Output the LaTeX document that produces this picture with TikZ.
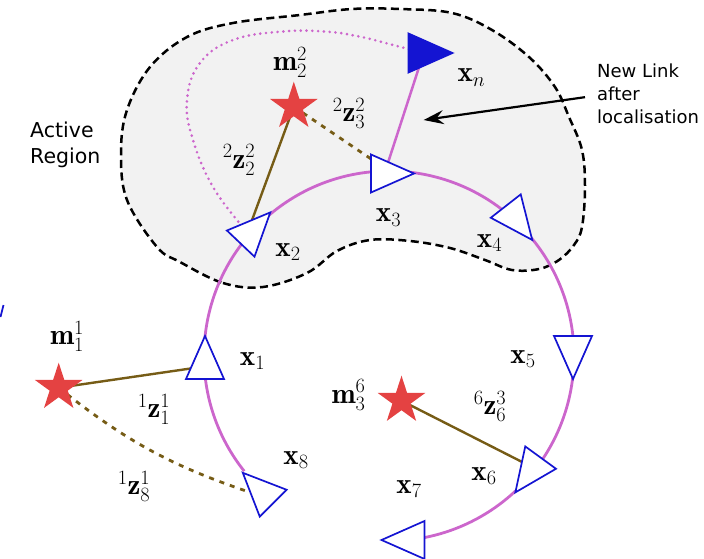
\documentclass[tikz,border=0pt]{standalone}
\usepackage{fix-cm}
\usepackage{fontspec}
\newfontfamily\dejavu{DejaVu Sans}
\usetikzlibrary{arrows.meta}
\definecolor{loopc}{RGB}{204,102,204}
\definecolor{robotc}{RGB}{20,20,210}
\definecolor{obsc}{RGB}{118,92,22}
\definecolor{starc}{RGB}{228,66,66}
\definecolor{regionfill}{RGB}{242,242,242}
\begin{document}
\begin{tikzpicture}[x=1pt,y=1pt,
  region/.style={draw=black, fill=regionfill, line width=2.5pt, dash pattern=on 8pt off 4.5pt},
  loopline/.style={draw=loopc, line width=2.8pt},
  linkline/.style={draw=loopc, line width=2.5pt},
  linkdot/.style={draw=loopc, line width=2.9pt, line cap=round, dash pattern=on 0pt off 5.8pt},
  obsline/.style={draw=obsc, line width=2.4pt},
  obsdash/.style={draw=obsc, line width=2.8pt, dash pattern=on 5pt off 6pt},
  robotline/.style={draw=robotc, line width=1.7pt, fill=white},
  robot/.pic={\path[robotline] (21.5,0) -- (-21.5,19) -- (-21.5,-19) -- cycle;},
  robotfilled/.pic={\path[draw=robotc, fill=robotc, line width=1.7pt] (22,0) -- (-22,19.5) -- (-22,-19.5) -- cycle;},
  landmark/.pic={\fill[starc] (90:25) -- (126:9.55) -- (162:25) -- (198:9.55) -- (234:25) -- (270:9.55) -- (306:25) -- (342:9.55) -- (18:25) -- (54:9.55) -- cycle;},
  lab/.style={inner sep=0pt, font=\fontsize{29}{31}\selectfont},
  note/.style={inner sep=0pt, align=left, anchor=north west}
]
\useasboundingbox (0,0) rectangle (704,558);

% active region
\path[region] plot[smooth cycle, tension=0.6] coordinates {
  (180,296) (223,275) (263,271) (307,285) (337,307) (370,318) (410,317)
  (450,310) (485,298) (512,288) (539,289) (559,298) (574,313) (582,331)
  (585,371) (582,408) (569,441) (555,471) (529,501) (492,528) (452,545)
  (400,549) (352,549) (300,543) (233,535) (187,521) (150,491) (127,448)
  (121,405) (127,358) (157,311)};

% named positions
\coordinate (C) at (389,202);
\coordinate (x1) at (205,200.5);
\coordinate (x2) at (255.5,330);
\coordinate (x3) at (392.5,384.5);
\coordinate (x4) at (519,335);
\coordinate (x5) at (573,200.5);
\coordinate (x6) at (528,83);
\coordinate (x7) at (403,18);
\coordinate (x8) at (258,70);
\coordinate (xn) at (430.5,505);
\coordinate (m1) at (58.7,170.3);
\coordinate (m2) at (293.8,451.3);
\coordinate (m3) at (401.5,157.3);
\coordinate (x1a) at (205,191.6);
\coordinate (x8a) at (255,64);
\coordinate (x2a) at (248,327);
\coordinate (x2b) at (242,332);
\coordinate (x3a) at (380,393);
\coordinate (x3b) at (384,383);
\coordinate (xna) at (423,503);
\coordinate (xnb) at (412,508);
\coordinate (x6a) at (530,92);

% trajectory loop
\draw[loopline] (C) ++(218.5:185) arc[start angle=218.5, end angle=-79, radius=185];

% new link
\draw[linkline] (x3b) -- (xna);
\draw[linkdot] plot[smooth, tension=0.7] coordinates {(x2b) (213,371) (193,418) (187,458) (200,495) (233,518) (283,526.5) (326.7,526.3) (360,521.3) (393,513) (xnb)};

% observations
\draw[obsline] (m1) -- (x1a);
\draw[obsdash] (m1) to[bend right=10] (x8a);
\draw[obsline] (m2) -- (x2a);
\draw[obsdash] (m2) -- (x3a);
\draw[obsline] (m3) -- (x6a);

% robot poses
\pic[rotate=90] at (x1) {robot};
\pic[rotate=46.5] at (x2) {robot};
\pic at (x3) {robot};
\pic[rotate=-52] at (x4) {robot};
\pic[rotate=-90] at (x5) {robot};
\pic[rotate=234] at (x6) {robot};
\pic[rotate=180] at (x7) {robot};
\pic[rotate=135] at (x8) {robot};
\pic at (xn) {robotfilled};
\draw[draw=robotc, line width=1.7pt] (3.5,253) -- (0.5,241);

% landmarks
\pic at (m1) {landmark};
\pic at (m2) {landmark};
\pic at (m3) {landmark};

% labels
\node[lab] (lm2) at (290,495.5) {$\mathbf{m}_2^2$};
\node[lab] (lz22) at (239,398) {${}^2\mathbf{z}_2^2$};
\node[lab] (lz23) at (349,444.5) {${}^2\mathbf{z}_3^2$};
\node[lab] (lxn) at (471.5,480.5) {$\mathbf{x}_n$};
\node[lab] (lx3) at (388.5,340.5) {$\mathbf{x}_3$};
\node[lab] (lx2) at (288,306) {$\mathbf{x}_2$};
\node[lab] (lx4) at (489.5,315) {$\mathbf{x}_4$};
\node[lab] (lx1) at (252.5,197) {$\mathbf{x}_1$};
\node[lab] (lm1) at (67,221.5) {$\mathbf{m}_1^1$};
\node[lab] (lz11) at (154,148.5) {${}^1\mathbf{z}_1^1$};
\node[lab] (lx8) at (296,98) {$\mathbf{x}_8$};
\node[lab] (lz81) at (134,71.5) {${}^1\mathbf{z}_8^1$};
\node[lab] (lx5) at (523,199) {$\mathbf{x}_5$};
\node[lab] (lm3) at (348.5,163) {$\mathbf{m}_3^6$};
\node[lab] (lz63) at (490,151.5) {${}^6\mathbf{z}_6^3$};
\node[lab] (lx6) at (484,82) {$\mathbf{x}_6$};
\node[lab] (lx7) at (409,69) {$\mathbf{x}_7$};

% texts
\node[note, font=\dejavu\fontsize{20.5}{26}\selectfont] (active) at (30,436.6) {Active\\Region};
\node[note, font=\dejavu\fontsize{18}{23}\selectfont] (newlink) at (597,494) {New Link\\after\\localisation};
\coordinate (tip) at (423.7,438);
\draw[line width=2.2pt, -{Stealth[length=20pt, width=14pt, inset=7pt]}] ([shift={(-12pt,-3pt)}]newlink.west) -- (tip);
\end{tikzpicture}
\end{document}
